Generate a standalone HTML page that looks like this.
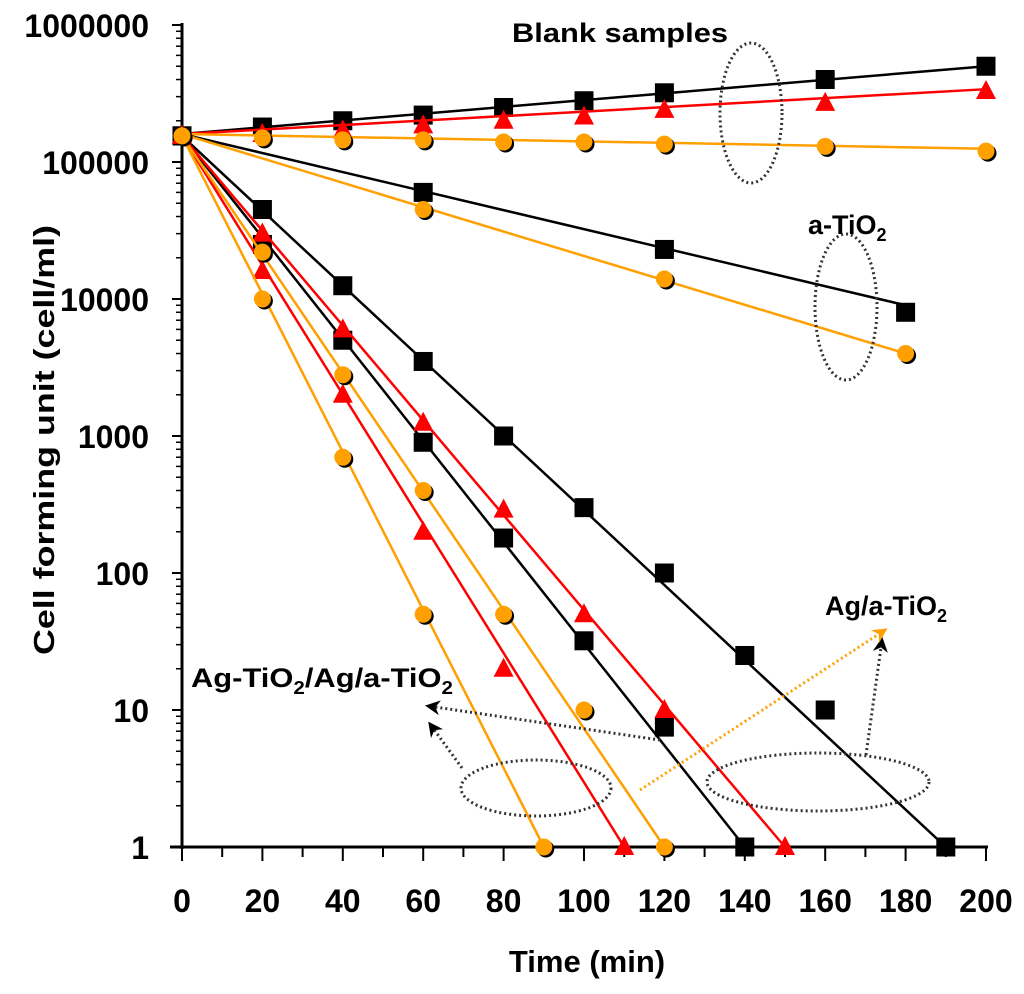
<!DOCTYPE html>
<html><head><meta charset="utf-8"><style>
body{margin:0;background:#fff}
svg{display:block;font-family:"Liberation Sans",Arial,sans-serif;font-weight:bold}
</style></head><body>
<svg id="chart" width="1024" height="994" viewBox="0 0 1024 994"></svg>
<script>
const xTicks=[0,20,40,60,80,100,120,140,160,180,200];
const yTickLabels=["1","10","100","1000","10000","100000","1000000"];
const blankBlackT=[0,20,40,60,80,100,120,160,200];
const blankBlackV=[155000,180000,200000,220000,250000,280000,320000,400000,500000];
const blankRedT=[0,20,40,60,80,100,120,160,200];
const blankRedV=[155000,160000,170000,185000,200000,215000,240000,270000,330000];
const blankOrangeT=[0,20,40,60,80,100,120,160,200];
const blankOrangeV=[155000,150000,145000,145000,140000,140000,135000,130000,120000];
const aBlackT=[0,60,120,180];
const aBlackV=[155000,60000,23000,8000];
const aOrangeT=[0,60,120,180];
const aOrangeV=[155000,45000,14000,4000];
const sBlackAT=[0,20,40,60,80,100,120,140,160,190];
const sBlackAV=[155000,45000,12500,3500,1000,300,100,25,10,1];
const sBlackBT=[0,20,40,60,80,100,120,140];
const sBlackBV=[155000,25000,5000,900,180,32,7.5,1];
const sRedAT=[0,20,40,60,80,100,120,150];
const sRedAV=[155000,30000,6000,1250,290,50,10,1];
const sRedBT=[0,20,40,60,80,110];
const sRedBV=[155000,16000,2000,200,20,1];
const sOrangeAT=[0,20,40,60,80,100,120];
const sOrangeAV=[155000,22000,2800,400,50,10,1];
const sOrangeBT=[0,20,40,60,90];
const sOrangeBV=[155000,10000,700,50,1];
const blankBlackLine=[160000,500000];
const blankRedLine=[160000,340000];
const blankOrangeLine=[160000,125000];
const aBlackLine=[160000,9000];
const aOrangeLine=[160000,4000];

const X0=182,X1=986,Y1=847,DEC=137;
const sx=t=>X0+(X1-X0)*t/200;
const sy=v=>Y1-Math.log10(v)*DEC;
const svg=document.getElementById('chart');
const NS='http://www.w3.org/2000/svg';
function el(tag,attrs,parent){const e=document.createElementNS(NS,tag);for(const k in attrs)e.setAttribute(k,attrs[k]);(parent||svg).appendChild(e);return e;}

const ax=el('line',{x1:X0-12,y1:Y1,x2:X1+2,y2:Y1,stroke:'#000','stroke-width':3});


const ay=el('line',{x1:X0,y1:Y1+2,x2:X0,y2:Y1-6*DEC-2,stroke:'#000','stroke-width':3});


for(let t=0;t<=200;t+=10){
  const major=t%20===0;
  const tk=el('line',{x1:sx(t),y1:Y1,x2:sx(t),y2:Y1+(major?14:10),stroke:'#000','stroke-width':2});
  
  
}
xTicks.forEach(t=>{
  const tx=el('text',{x:sx(t),y:912,'font-size':32,'text-anchor':'middle'});
  tx.textContent=t;
  
  
});
yTickLabels.forEach((lab,i)=>{
  const y=Y1-i*DEC;
  const tk=el('line',{x1:X0-10,y1:y,x2:X0,y2:y,stroke:'#000','stroke-width':2});
  
  
  if(i<6){for(let m=2;m<=9;m++){const yy=y-Math.log10(m)*DEC;
    const mt=el('line',{x1:X0-6,y1:yy,x2:X0,y2:yy,stroke:'#000','stroke-width':1.5});
    
    }}
  const tx=el('text',{x:149,y:y+12,'font-size':32,'text-anchor':'end'});
  tx.textContent=lab;
  
  
});
const xt=el('text',{x:587,y:972,'font-size':31,'text-anchor':'middle'});
xt.textContent='Time (min)';


const yt=el('text',{x:0,y:0,'font-size':29,'text-anchor':'middle',textLength:430,lengthAdjust:'spacingAndGlyphs',transform:'translate(54,440) rotate(-90)'});
yt.textContent='Cell forming unit (cell/ml)';



const COL={black:'#000',red:'#ff0000',orange:'#ffa000'};
function series(name,T,V,color,marker,line){
  const g=el('g',{});
  
  
  const v0=line?line[0]:V[0], v1=line?line[1]:V[V.length-1];
  el('line',{x1:sx(T[0]),y1:sy(v0),x2:sx(T[T.length-1]),y2:sy(v1),stroke:COL[color],'stroke-width':2.5},g);
  T.forEach((t,i)=>{
    const x=sx(t),y=sy(V[i]);let m;
    if(marker==='square'){m=el('rect',{x:x-9.5,y:y-9.5,width:19,height:19,fill:'#000'},g);}
    else if(marker==='tri'){m=el('polygon',{points:`${x},${y-11} ${x-10},${y+8} ${x+10},${y+8}`,fill:COL.red},g);}
    else{el('circle',{cx:x+2,cy:y+2,r:8.5,fill:'#000'},g);m=el('circle',{cx:x,cy:y,r:8.5,fill:COL.orange},g);}
    
    
  });
}
series('blank-black',blankBlackT,blankBlackV,'black','square',blankBlackLine);
series('blank-red',blankRedT,blankRedV,'red','tri',blankRedLine);
series('blank-orange',blankOrangeT,blankOrangeV,'orange','circle',blankOrangeLine);
series('a-tio2-black',aBlackT,aBlackV,'black','square',aBlackLine);
series('a-tio2-orange',aOrangeT,aOrangeV,'orange','circle',aOrangeLine);
series('ag-black-a',sBlackAT,sBlackAV,'black','square');
series('ag-black-b',sBlackBT,sBlackBV,'black','square');
series('ag-red-a',sRedAT,sRedAV,'red','tri');
series('ag-red-b',sRedBT,sRedBV,'red','tri');
series('ag-orange-a',sOrangeAT,sOrangeAV,'orange','circle');
series('ag-orange-b',sOrangeBT,sOrangeBV,'orange','circle');
</script>
<svg width="1024" height="994" style="position:absolute;left:0;top:0">
<defs>
<marker id="ah" viewBox="0 0 10 10" refX="8" refY="5" markerWidth="5" markerHeight="5" orient="auto"><path d="M0,0 L10,5 L0,10 L3,5z" fill="#000"/></marker>
<marker id="aho" viewBox="0 0 10 10" refX="8" refY="5" markerWidth="5" markerHeight="5" orient="auto"><path d="M0,0 L10,5 L0,10 L3,5z" fill="#ffa000"/></marker>
</defs>
<g fill="none" stroke="#333" stroke-width="3" stroke-dasharray="2 3">
<ellipse cx="751" cy="113" rx="31" ry="70"/>
<ellipse cx="846" cy="307" rx="31" ry="73"/>
<ellipse cx="536" cy="788" rx="75" ry="28"/>
<ellipse cx="818" cy="782" rx="111" ry="29"/>
<line x1="866" y1="755" x2="882" y2="640" marker-end="url(#ah)"/>
<line x1="660" y1="740" x2="428" y2="706" marker-end="url(#ah)"/>
<line x1="462" y1="768" x2="430" y2="724" marker-end="url(#ah)"/>
<line x1="640" y1="790" x2="885" y2="630" stroke="#ffa000" marker-end="url(#aho)"/>
</g>
<g font-family="Liberation Sans, Arial, sans-serif" font-weight="bold" font-size="27" fill="#000">
<text x="512" y="42" textLength="216" lengthAdjust="spacingAndGlyphs">Blank samples</text>
<text x="808" y="234">a-TiO<tspan font-size="18" dy="7">2</tspan></text>
<text x="825" y="615">Ag/a-TiO<tspan font-size="18" dy="7">2</tspan></text>
<text x="191" y="687" textLength="262" lengthAdjust="spacingAndGlyphs">Ag-TiO<tspan font-size="18" dy="7">2</tspan><tspan dy="-7">/Ag/a-TiO</tspan><tspan font-size="18" dy="7">2</tspan></text>
</g>
</svg>
</body></html>
